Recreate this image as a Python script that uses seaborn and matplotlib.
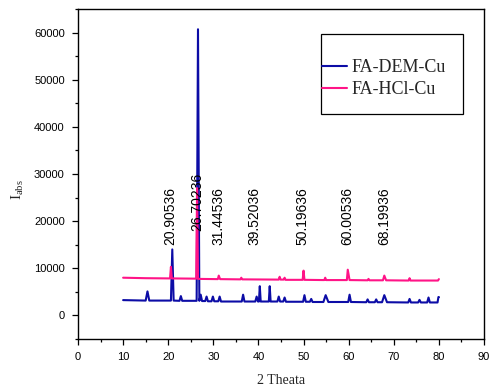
import matplotlib
matplotlib.use("Agg")
import matplotlib.pyplot as plt
import seaborn as sns
import pandas as pd
from matplotlib.ticker import MultipleLocator
from matplotlib.patches import Rectangle

# ---- data ----
dem_x = [10.0, 15.0, 15.4, 15.8, 20.6, 20.9, 21.2, 22.5, 22.8, 23.1, 26.3, 26.6, 26.9,
         27.2, 27.5, 28.2, 28.5, 28.8, 29.6, 29.9, 30.2, 31.1, 31.4, 31.7, 36.3, 36.6,
         36.9, 39.3, 39.6, 39.9, 40.1, 40.3, 40.5, 42.3, 42.5, 42.7, 44.2, 44.5, 44.8,
         45.5, 45.8, 46.1, 49.9, 50.2, 50.5, 51.4, 51.7, 52.0, 54.4, 54.9, 55.5, 59.9,
         60.2, 60.5, 63.9, 64.2, 64.5, 65.8, 66.1, 66.4, 67.4, 67.9, 68.5, 73.2, 73.5,
         73.8, 75.4, 75.7, 76.0, 77.4, 77.7, 78.0, 79.7, 79.9, 80.0]
dem_y = [3250, 3150, 5100, 3150, 3150, 14000, 3150, 3100, 4100, 3100, 3100, 60700, 3100,
         4400, 3050, 3050, 4000, 3000, 3000, 4000, 3000, 3000, 4000, 2950, 2950, 4400,
         2950, 2950, 4000, 2950, 2950, 6200, 2950, 2950, 6200, 2950, 2950, 4000, 2950,
         2950, 3800, 2900, 2900, 4300, 2900, 2900, 3500, 2850, 2850, 4300, 2850, 2850,
         4400, 2850, 2800, 3400, 2800, 2800, 3400, 2800, 2800, 4300, 2800, 2750, 3500,
         2750, 2750, 3300, 2750, 2750, 3800, 2750, 2750, 3900, 3900]

hcl_x = [10.0, 15.0, 20.4, 20.6, 20.8, 26.2, 26.4, 26.6, 31.0, 31.2, 31.5, 36.0, 36.2,
         36.4, 44.5, 44.7, 44.9, 45.6, 45.8, 46.0, 49.8, 50.0, 50.2, 54.6, 54.8, 55.0,
         59.6, 59.8, 60.2, 64.2, 64.4, 64.6, 67.6, 67.9, 68.3, 73.3, 73.5, 73.7, 79.8,
         80.0]
hcl_y = [8000, 7900, 7850, 10300, 7850, 7800, 27000, 7750, 7700, 8450, 7700, 7650, 8000,
         7650, 7600, 8200, 7600, 7600, 8000, 7550, 7550, 9500, 7550, 7500, 8000, 7500,
         7500, 9700, 7500, 7450, 7750, 7450, 7450, 8450, 7450, 7400, 7900, 7400, 7400,
         7700]

series_names = ["FA-DEM-Cu", "FA-HCl-Cu"]
peak_labels = ["20.90536", "26.70236", "31.44536", "39.52036", "50.19636", "60.00536", "68.19936"]
peak_values = [20.90536, 26.70236, 31.44536, 39.52036, 50.19636, 60.00536, 68.19936]

xticks = [0, 10, 20, 30, 40, 50, 60, 70, 80, 90]
yticks = [0, 10000, 20000, 30000, 40000, 50000, 60000]

# ---- build table ----
df = pd.concat([
    pd.DataFrame({"x": dem_x, "y": dem_y, "series": series_names[0]}),
    pd.DataFrame({"x": hcl_x, "y": hcl_y, "series": series_names[1]}),
], ignore_index=True)

sns.set_theme(style="white")
plt.rcParams["font.family"] = ["Liberation Sans", "DejaVu Sans"]

fig = plt.figure(figsize=(4.92, 3.89), dpi=100)
ax = fig.add_axes([78 / 492, 50 / 389, 406 / 492, 330 / 389])

palette = {"FA-DEM-Cu": "#0c0ca6", "FA-HCl-Cu": "#ff1487"}
sns.lineplot(data=df, x="x", y="y", hue="series", palette=palette, estimator=None,
             sort=False, linewidth=1.5, ax=ax, legend=True)

ax.set_xlim(0, 90)
ax.set_ylim(-5000, 65000)
ax.set_xticks(xticks)
ax.set_yticks(yticks)
ax.xaxis.set_minor_locator(MultipleLocator(5))
ax.yaxis.set_minor_locator(MultipleLocator(5000))
ax.tick_params(axis="both", which="major", direction="out", length=4.5, width=0.9,
               color="black", labelsize=8, pad=5, bottom=True, left=True,
               top=False, right=False, labelcolor="black")
ax.tick_params(axis="both", which="minor", direction="out", length=2.5, width=0.9,
               color="black", bottom=True, left=True, top=False, right=False)
for s in ax.spines.values():
    s.set_color("black")
    s.set_linewidth(1.0)
ax.grid(False)
ax.set_xlabel("")
ax.set_ylabel("")

# peak labels
label_y = [15000, 18000, 15000, 15000, 15000, 15000, 15000]
for v, t, yy in zip(peak_values, peak_labels, label_y):
    ax.text(v - 0.35, yy, t, rotation=90, ha="center", va="bottom", fontsize=10,
            color="black")

# legend
ax.legend(handles=ax.get_legend_handles_labels()[0], labels=series_names,
          loc="center left", bbox_to_anchor=(0.600, 0.789), frameon=False,
          borderpad=0, borderaxespad=0, handlelength=1.4, handletextpad=0.25,
          labelspacing=0.3, prop={"family": "Liberation Serif", "size": 13})
ax.add_patch(Rectangle((0.599, 0.682), 0.349, 0.242, transform=ax.transAxes,
                       fill=False, edgecolor="black", linewidth=0.9, zorder=5))

# axis titles
fig.text(281 / 492, 1 - 381 / 389, "2 Theata", ha="center", va="center",
         fontsize=10, family="Liberation Serif")
fig.text(18 / 492, 1 - 190 / 389, r"$\mathregular{I_{abs}}$", ha="center", va="center",
         rotation=90, fontsize=11, family="Liberation Serif")

fig.savefig("out.png", dpi=100)
